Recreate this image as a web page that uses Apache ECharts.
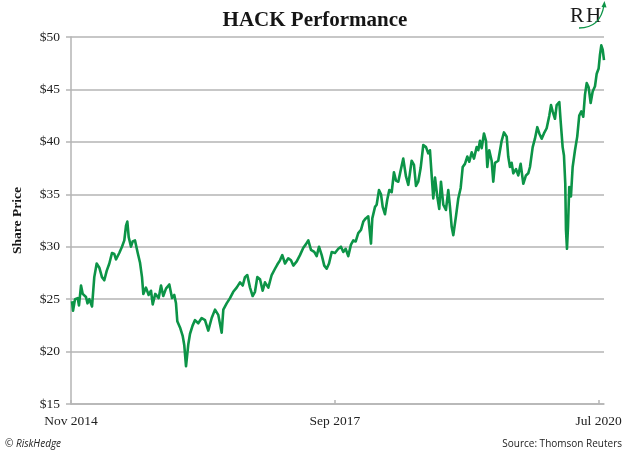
<!DOCTYPE html>
<html>
<head>
<meta charset="utf-8">
<script src="https://cdn.jsdelivr.net/npm/echarts@6/dist/echarts.min.js"></script>
<style>html,body{margin:0;padding:0;background:#fff;}#c{width:630px;height:454px;}</style>
</head>
<body>
<div id="c"></div>
<script>
// months since Nov 2014 (x position) and share price
const months = [0.13,0.26,0.52,0.86,1.03,1.29,1.51,1.93,2.13,2.36,2.71,3.00,3.31,3.65,3.99,4.29,4.60,4.94,5.28,5.58,5.80,6.22,6.57,6.87,7.09,7.26,7.44,7.73,7.95,8.25,8.60,8.89,9.15,9.32,9.66,10.01,10.31,10.53,10.86,11.30,11.60,11.89,12.24,12.67,13.02,13.31,13.53,13.70,14.05,14.39,14.60,14.82,15.12,15.34,15.68,15.98,16.40,16.84,17.27,17.69,18.13,18.56,18.98,19.42,19.63,20.06,20.49,20.91,21.35,21.78,22.13,22.42,22.72,23.07,23.41,23.71,24.01,24.36,24.70,25.00,25.43,25.86,26.29,26.59,26.93,27.23,27.58,28.00,28.35,28.65,29.09,29.51,29.94,30.24,30.58,30.93,31.35,31.66,31.96,32.31,32.64,32.95,33.25,33.60,34.02,34.45,34.79,35.09,35.40,35.73,36.08,36.38,36.69,37.02,37.37,37.67,37.98,38.31,38.66,38.83,39.18,39.39,39.69,39.95,40.17,40.46,40.76,41.02,41.33,41.62,41.88,42.18,42.49,42.82,43.17,43.47,43.90,44.20,44.46,44.75,45.06,45.40,45.75,46.04,46.26,46.48,46.69,46.91,47.20,47.46,47.68,47.98,48.32,48.62,48.84,49.06,49.27,49.61,49.91,50.22,50.48,50.77,51.07,51.33,51.64,51.93,52.28,52.49,52.71,52.93,53.22,53.48,53.65,53.90,54.21,54.42,54.64,55.06,55.50,55.80,56.15,56.35,56.57,56.79,57.00,57.35,57.64,57.95,58.29,58.63,58.93,59.15,59.50,59.79,60.09,60.35,60.66,60.95,61.30,61.64,61.86,62.07,62.37,62.59,62.93,63.11,63.36,63.53,63.70,63.79,63.92,64.05,64.21,64.43,64.65,64.95,65.24,65.50,65.76,66.02,66.24,66.46,66.71,66.97,67.23,67.53,67.75,68.00,68.17,68.34,68.52,68.69];
const prices = [24.8,23.9,25.0,25.1,24.4,26.3,25.5,25.2,24.6,25.0,24.3,27.1,28.4,28.0,27.1,26.8,27.7,28.4,29.4,29.3,28.8,29.4,30.0,30.6,32.0,32.4,30.9,30.0,30.5,30.6,29.4,28.5,27.1,25.5,26.1,25.4,25.8,24.5,25.5,25.1,26.3,25.3,26.0,26.4,25.1,25.4,24.6,22.9,22.3,21.5,20.6,18.6,20.7,21.7,22.5,23.0,22.7,23.2,23.0,22.0,23.2,24.0,23.5,21.8,24.0,24.6,25.1,25.7,26.1,26.6,26.3,27.1,27.3,26.1,25.3,25.7,27.1,26.9,25.8,26.6,26.1,27.3,27.9,28.3,28.7,29.2,28.4,28.9,28.7,28.2,28.6,29.2,29.9,30.2,30.6,29.7,29.5,29.1,30.0,29.2,28.2,27.9,28.4,29.5,29.4,29.8,30.0,29.5,29.8,29.1,30.2,30.6,30.5,31.3,31.6,32.4,32.7,32.9,30.3,32.7,33.8,34.0,35.4,35.0,33.8,33.1,34.5,35.4,35.2,37.1,36.3,36.2,37.3,38.4,36.7,35.9,38.2,37.8,35.8,36.2,37.5,39.7,39.5,38.9,39.2,36.8,34.6,36.6,34.8,33.6,36.2,34.0,33.5,35.4,33.8,31.9,31.1,32.9,34.6,35.6,37.6,37.9,38.6,38.1,39.0,38.4,39.5,39.2,40.1,39.4,40.8,40.1,37.6,39.2,38.2,36.2,38.0,38.2,40.1,40.9,40.5,38.6,37.6,38.0,37.0,37.4,36.8,37.9,36.0,36.8,37.0,37.6,39.5,40.3,41.4,40.8,40.3,40.8,41.3,42.5,43.5,42.9,42.2,43.5,43.8,41.9,39.5,38.7,36.0,31.6,29.8,31.9,35.7,34.8,37.6,39.2,40.5,42.5,42.9,42.4,44.5,45.6,45.2,43.7,44.8,45.3,46.5,47.0,48.3,49.2,48.8,47.8];
const xTickValues = [0, 34, 68];
const xTickLabels = ['Nov 2014', 'Sep 2017', 'Jul 2020'];
const yTicks = [15, 20, 25, 30, 35, 40, 45, 50];

const serif = "'Liberation Serif','DejaVu Serif',serif";
const chart = echarts.init(document.getElementById('c'), null, {renderer: 'canvas'});
const seriesData = months.map((m, i) => [m, prices[i]]);

chart.setOption({
  animation: false,
  backgroundColor: '#fff',
  title: {
    text: 'HACK Performance',
    left: 'center',
    top: 5,
    textStyle: {fontFamily: serif, fontWeight: 'bold', fontSize: 21, color: '#151515'}
  },
  grid: {left: 71, right: 26, top: 37, bottom: 50},
  xAxis: {
    type: 'value',
    min: 0,
    max: 68.69,
    axisLine: {lineStyle: {color: '#b5b5b5', width: 1.5}},
    axisTick: {show: true, inside: true, length: 4, customValues: xTickValues, lineStyle: {color: '#b5b5b5', width: 1.5}},
    axisLabel: {
      customValues: xTickValues,
      formatter: v => { const i = xTickValues.indexOf(Math.round(v)); return i >= 0 ? xTickLabels[i] : ''; },
      fontFamily: serif, fontSize: 13.5, color: '#222', margin: 10
    },
    splitLine: {show: false}
  },
  yAxis: {
    type: 'value',
    min: yTicks[0],
    max: yTicks[yTicks.length - 1],
    interval: 5,
    name: 'Share Price',
    nameLocation: 'middle',
    nameGap: 46,
    nameTextStyle: {fontFamily: serif, fontWeight: 'bold', fontSize: 13.5, color: '#151515'},
    axisLine: {show: true, lineStyle: {color: '#b5b5b5', width: 1.5}},
    axisTick: {show: true, length: 5, lineStyle: {color: '#b5b5b5', width: 1.5}},
    axisLabel: {formatter: v => '$' + v, fontFamily: serif, fontSize: 13.5, color: '#222', margin: 11},
    splitLine: {show: true, lineStyle: {color: '#b5b5b5', width: 1.5}}
  },
  series: [{
    type: 'line',
    data: seriesData,
    showSymbol: false,
    symbol: 'none',
    lineStyle: {color: '#0c9447', width: 2.6, join: 'round'},
    z: 5
  }],
  graphic: [
    {type: 'text', left: 570, top: 6, style: {text: 'R', fontFamily: serif, fontSize: 21, fill: '#1a1a1a'}},
    {type: 'text', left: 586, top: 6, style: {text: 'H', fontFamily: serif, fontSize: 21, fill: '#1a1a1a'}},
    {type: 'bezierCurve', shape: {x1: 579, y1: 28, x2: 604, y2: 5, cpx1: 595, cpy1: 28, cpx2: 602, cpy2: 18}, style: {stroke: '#0c9447', lineWidth: 1.3, fill: null}},
    {type: 'polygon', shape: {points: [[601.5, 7], [604.5, 1], [606.5, 7.5]]}, style: {fill: '#0c9447'}},
    {type: 'text', left: 5, top: 439, style: {text: '© RiskHedge', fontFamily: "'Open Sans',sans-serif", fontStyle: 'italic', fontSize: 10, fill: '#222'}},
    {type: 'text', right: 8, top: 439, style: {text: 'Source: Thomson Reuters', fontFamily: "'Open Sans',sans-serif", fontSize: 10, fill: '#222'}}
  ]
});
</script>
</body>
</html>
